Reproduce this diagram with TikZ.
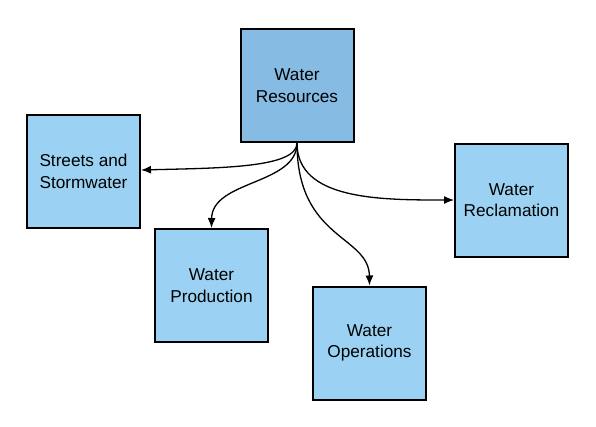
\documentclass[tikz,border=0pt]{standalone}
\usepackage{fontspec}
\setmainfont{Liberation Sans}
\usetikzlibrary{arrows.meta}
\definecolor{boxA}{HTML}{86BBE4}
\definecolor{boxB}{HTML}{9BD2F3}
\tikzset{
  unit/.style={x=1pt,y=-1pt},
  dept/.style={draw=black, line width=2pt, fill=boxB, minimum width=113pt, minimum height=113pt, inner sep=0pt, align=center, font=\fontsize{17.2}{21.5}\selectfont},
  head/.style={dept, fill=boxA},
  link/.style={line width=1.3pt, -{Latex[length=10pt,width=8pt]}}
}
\begin{document}
\begin{tikzpicture}[unit]
\useasboundingbox (0,0) rectangle (596,426);
\node[head] (res) at (297,85.5) {Water\\Resources};
\node[dept] (sts) at (83.5,171.5) {Streets and\\Stormwater};
\node[dept] (prod) at (211.5,285.5) {Water\\Production};
\node[dept] (ops) at (369.5,343) {Water\\Operations};
\node[dept] (rec) at (511.5,200) {Water\\Reclamation};
\coordinate (src) at (297,143);
\draw[link] (src) .. controls (297,168) and (220,168) .. (sts.east |- 0,170);
\draw[link] (src) .. controls (297,185) and (212,180) .. (prod.north);
\draw[link] (src) .. controls (297,240) and (369,235) .. (ops.north);
\draw[link] (src) .. controls (297,200) and (380,200) .. (rec.west);
\end{tikzpicture}
\end{document}
